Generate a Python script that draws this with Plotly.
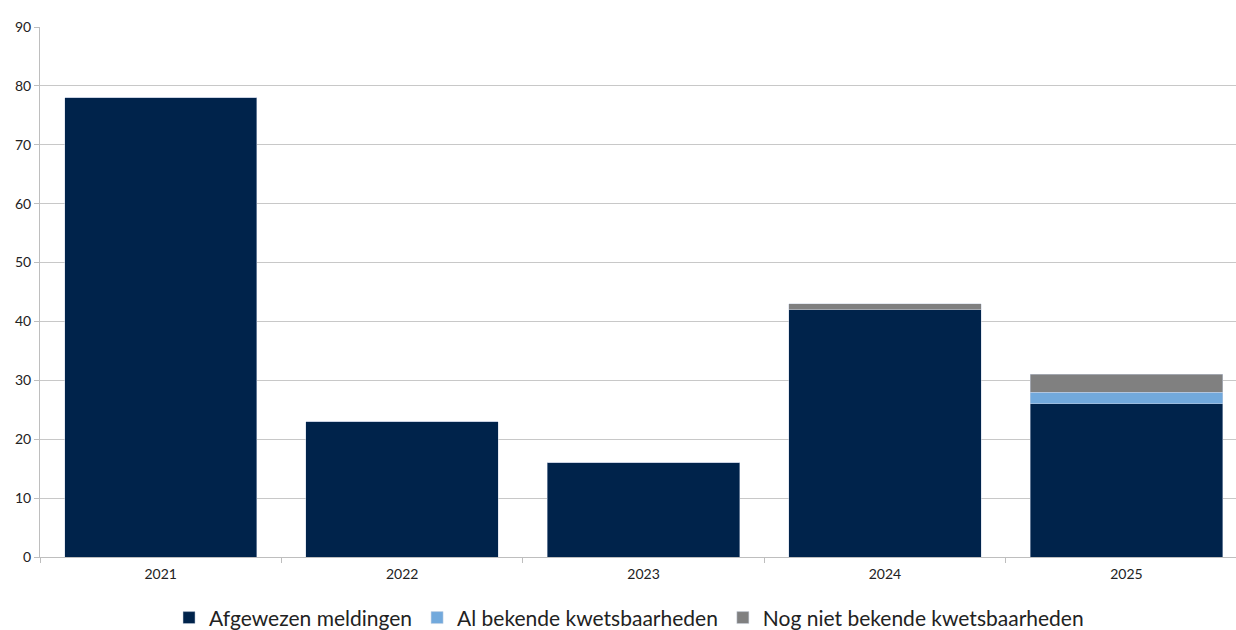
import plotly.graph_objects as go

years = ["2021", "2022", "2023", "2024", "2025"]
afgewezen = [78, 23, 16, 42, 26]
al_bekend = [0, 0, 0, 0, 2]
nog_niet_bekend = [0, 0, 0, 1, 3]

series = [
    ("Afgewezen meldingen", afgewezen, "#00234B"),
    ("Al bekende kwetsbaarheden", al_bekend, "#72A9DC"),
    ("Nog niet bekende kwetsbaarheden", nog_niet_bekend, "#808080"),
]

fig = go.Figure()
for name, vals, color in series:
    fig.add_trace(go.Bar(
        x=years, y=vals, name=name,
        marker=dict(color=color, line=dict(width=0.6, color="rgba(200,210,225,0.8)")),
    ))

font_family = "Lato, 'Open Sans', sans-serif"
fig.update_layout(
    barmode="stack",
    bargap=0.203,
    width=1236, height=630,
    margin=dict(l=40, r=0, t=27, b=73, autoexpand=False),
    plot_bgcolor="white", paper_bgcolor="white",
    font=dict(family=font_family, size=14, color="#222222"),
    legend=dict(
        orientation="h", x=0.4925, xanchor="center", y=-0.115, yanchor="middle",
        font=dict(size=21, color="#222222"), itemwidth=30, traceorder="normal",
    ),
    showlegend=True,
)
fig.update_yaxes(
    range=[0, 90], dtick=10, showgrid=True, gridcolor="#C8C8C8", gridwidth=1,
    showline=True, linecolor="#BEBEBE", linewidth=1,
    ticks="outside", ticklen=5, tickcolor="#BEBEBE", zeroline=False,
    tickfont=dict(size=14),
)
# the right edge of the category band is trimmed slightly
fig.update_xaxes(
    range=[-0.5, 4.454],
    showline=True, linecolor="#BEBEBE", linewidth=1,
    ticks="outside", tickson="boundaries", ticklen=5, tickcolor="#BEBEBE",
    tickfont=dict(size=14), ticklabelstandoff=4,
)

fig.write_html("out.html")
